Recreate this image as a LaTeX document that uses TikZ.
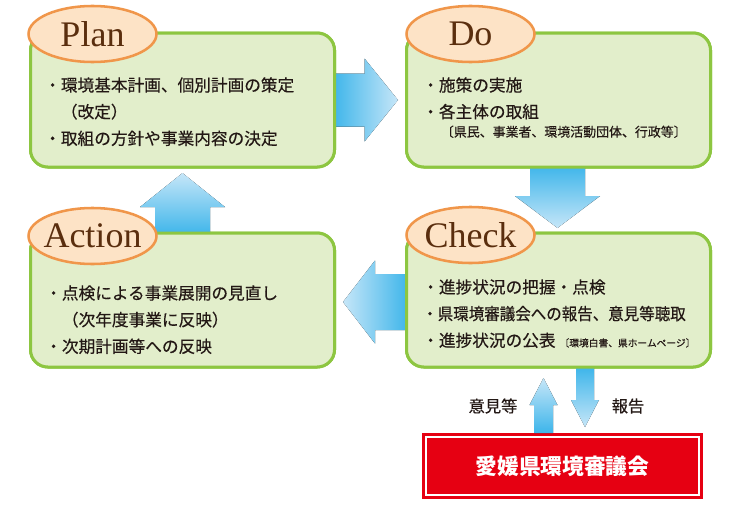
\documentclass[tikz,border=0pt]{standalone}
\usepackage{fontspec}
\setmainfont{Liberation Serif}
\newfontfamily\jpfont[FakeBold=0.4]{Noto Sans CJK JP}
\newfontfamily\jpboldfont{Noto Sans CJK JP}
\usetikzlibrary{positioning,shapes.geometric}

\definecolor{boxgreen}{HTML}{E2EECB}
\definecolor{linegreen}{HTML}{8DC641}
\definecolor{peach}{HTML}{FDE3C6}
\definecolor{peachline}{HTML}{F0964A}
\definecolor{brownink}{HTML}{5A2E0E}
\definecolor{skydark}{HTML}{3DB5EA}
\definecolor{skylight}{HTML}{C6E6F8}
\definecolor{councilred}{HTML}{E60012}
\definecolor{inkgray}{HTML}{231815}

\begin{document}
\begin{tikzpicture}[
    x=0.75pt, y=-0.75pt,
    box/.style={rectangle, draw=linegreen, line width=2.25pt, rounded corners=13pt, fill=boxgreen, minimum width=228pt, minimum height=100.5pt, outer sep=0pt},
    tag/.style={ellipse, draw=peachline, line width=1.9pt, fill=peach, minimum width=96pt, minimum height=42pt, inner sep=-12pt, text=brownink, font=\fontsize{27}{27}\selectfont},
    body/.style={anchor=north west, inner sep=0pt, align=left, text=inkgray, font=\jpfont\fontsize{12.5}{20}\selectfont},
    note/.style={inner sep=0pt, text=inkgray, font=\jpfont\fontsize{12.2}{14}\selectfont},
    council/.style={rectangle, fill=councilred, minimum width=210.75pt, minimum height=49.5pt, outer sep=0pt, text=white, font=\jpboldfont\bfseries\fontsize{16.3}{18}\selectfont},
    toright/.style={left color=skydark, right color=skylight},
    toleft/.style={left color=skylight, right color=skydark},
    todown/.style={top color=skydark, bottom color=skylight},
    toup/.style={top color=skylight, bottom color=skydark}
]
\useasboundingbox (0,0) rectangle (750,514);

\coordinate (origin) at (182.5,100);
\path (origin) node (plan) [box] {};
\node (do) [box, right=54pt of plan] {};
\node (action) [box, below=49.5pt of plan] {};
\node (check) [box, below=49.5pt of do] {};
\node (council) [council, below=49.5pt of check, xshift=3pt] {愛媛県環境審議会};
\draw [white, line width=1.1pt] ([shift={(4,4)}]council.north west) rectangle ([shift={(-4,-4)}]council.south east);

\begin{scope}[shift={(plan.east)}]
\fill [toright] (-2,-26.5) -- (30,-26.5) -- (30,-41.5) -- (63.5,0) -- (30,41.5) -- (30,26.5) -- (-2,26.5) -- cycle;
\end{scope}
\begin{scope}[shift={(do.south)}]
\fill [todown] (-28.5,-2) -- (-28.5,29) -- (-43.5,29) -- (-1,61) -- (41.5,29) -- (26.5,29) -- (26.5,-2) -- cycle;
\end{scope}
\begin{scope}[shift={(check.west)}]
\fill [toleft] (2,-26) -- (-31.5,-26) -- (-31.5,-39.5) -- (-63.5,2) -- (-31.5,43.5) -- (-31.5,30) -- (2,30) -- cycle;
\end{scope}
\begin{scope}[shift={(action.north)}]
\fill [toup] (-27.5,2) -- (-27.5,-26) -- (-42.5,-26) -- (0,-60) -- (42.5,-26) -- (27.5,-26) -- (27.5,2) -- cycle;
\end{scope}
\begin{scope}[shift={(council.north)}]
\fill [toup] (-28.5,0) -- (-28.5,-28) -- (-33,-28) -- (-19,-55) -- (-5,-28) -- (-9.5,-28) -- (-9.5,0) -- cycle;
\end{scope}
\begin{scope}[shift={(check.south)}]
\fill [todown] (17.5,0) -- (17.5,33) -- (12.5,33) -- (26.5,60) -- (40.5,33) -- (35.5,33) -- (35.5,0) -- cycle;
\end{scope}

\node (plan) [box] at (origin) {};
\node (do) [box, right=54pt of plan] {};
\node (action) [box, below=49.5pt of plan] {};
\node (check) [box, below=49.5pt of do] {};

\node (plantag) [tag] at ([shift={(62,1)}]plan.north west) {Plan};
\node (dotag) [tag] at ([shift={(64,1)}]do.north west) {Do};
\node (actiontag) [tag] at ([shift={(62,3)}]action.north west) {Action};
\node (checktag) [tag] at ([shift={(64,2)}]check.north west) {Check};

\node (plantext) [body] at ([shift={(13.5,44)}]plan.north west) {・環境基本計画、個別計画の策定\\　（改定）\\・取組の方針や事業内容の決定};
\node (dotext) [body] at ([shift={(15.5,44)}]do.north west) {・施策の実施\\・各主体の取組\\[-6pt]{\fontsize{9.7}{20}\selectfont\hspace*{14pt}〔県民、事業者、環境活動団体、行政等〕}};
\node (actiontext) [body] at ([shift={(14.5,52)}]action.north west) {・点検による事業展開の見直し\\　（次年度事業に反映）\\・次期計画等への反映};
\node (checktext) [body] at ([shift={(15.5,46)}]check.north west) {・進捗状況の把握・点検\\\scalebox{0.93}[1]{・県環境審議会への報告、意見等聴取}\\・進捗状況の公表{\fontsize{7.3}{20}\selectfont\hspace{3pt}〔環境白書、県ホームページ〕}};

\node (iken) [note] at ([shift={(-69.5,-27)}]council.north) {意見等};
\node (houkoku) [note] at ([shift={(65.5,-27)}]council.north) {報告};

\end{tikzpicture}
\end{document}
